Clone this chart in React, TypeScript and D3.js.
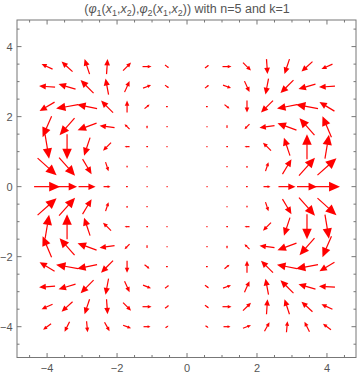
import React, { useEffect, useRef } from 'react';
import * as d3 from 'd3';

// grid of sample points (VectorPlot style, 15 x 14)
const xPoints = [-4, -3.429, -2.857, -2.286, -1.714, -1.143, -0.571, 0, 0.571, 1.143, 1.714, 2.286, 2.857, 3.429, 4];
const yPoints = [3.429, 2.857, 2.286, 1.714, 1.143, 0.571, 0, -0.571, -1.143, -1.714, -2.286, -2.857, -3.429, -4];

// horizontal component of each arrow, one row per yPoint
const uRows = [
  [-11, -11, -5, 1, 8, 9, 4, 0, 4, 9, 8, 1, -5, -11, -11],
  [-16, -17, -13, -3, 5, 8, 4, 0, 4, 8, 5, -3, -13, -17, -16],
  [-15, -22, -20, -12, 0, 5, 2, 0, 2, 5, 0, -12, -20, -22, -15],
  [-9, -15, -19, -15, -5, 0, 0, 0, 0, 0, -5, -15, -19, -15, -9],
  [4, 0, -6, -8, -5, -2, -1, 0, -1, -2, -5, -8, -6, 0, 4],
  [19, 16, 9, 3, 0, 0, 0, 0, 0, 0, 0, 3, 9, 16, 19],
  [26, 20, 17, 7, 2, 1, 1, 0, 1, 1, 2, 7, 17, 20, 26],
  [19, 16, 9, 3, 0, 0, 0, 0, 0, 0, 0, 3, 9, 16, 19],
  [4, 0, -6, -8, -5, -2, -1, 0, -1, -2, -5, -8, -6, 0, 4],
  [-9, -15, -19, -15, -5, 0, 0, 0, 0, 0, -5, -15, -19, -15, -9],
  [-15, -22, -20, -12, 0, 5, 2, 0, 2, 5, 0, -12, -20, -22, -15],
  [-16, -17, -13, -3, 5, 8, 4, 0, 4, 8, 5, -3, -13, -17, -16],
  [-11, -11, -5, 1, 8, 9, 4, 0, 4, 9, 8, 1, -5, -11, -11],
  [-8, -5, 1, 5, 8, 7, 3, 0, 3, 7, 8, 5, 1, -5, -8],
];

// vertical component (up is positive)
const vRows = [
  [5, 10, 15, 15, 8, 0, -3, 0, 3, 0, -8, -15, -15, -10, -5],
  [1, 5, 13, 16, 11, 3, -3, 0, 3, -3, -11, -16, -13, -5, -1],
  [-9, -4, 4, 12, 12, 4, 0, 0, 0, -4, -12, -12, -4, 4, 9],
  [-21, -17, -7, 2, 5, 3, 1, 0, -1, -3, -5, -2, 7, 17, 21],
  [-24, -25, -18, -8, 0, 0, 0, 0, 0, 0, 0, 8, 18, 25, 24],
  [-17, -18, -15, -9, -2, -1, 0, 0, 0, 1, 2, 9, 15, 18, 17],
  [0, 0, 0, 0, 0, 0, 0, 0, 0, 0, 0, 0, 0, 0, 0],
  [17, 18, 15, 9, 2, 1, 0, 0, 0, -1, -2, -9, -15, -18, -17],
  [24, 25, 18, 8, 0, 0, 0, 0, 0, 0, 0, -8, -18, -25, -24],
  [21, 17, 7, -2, -5, -3, -1, 0, 1, 3, 5, 2, -7, -17, -21],
  [9, 4, -4, -12, -12, -4, 0, 0, 0, 4, 12, 12, 4, -4, -9],
  [-1, -5, -13, -16, -11, -3, 3, 0, -3, 3, 11, 16, 13, 5, 1],
  [-5, -10, -15, -15, -8, 0, 3, 0, -3, 0, 8, 15, 15, 10, 5],
  [-6, -10, -11, -9, -3, 0, 2, 0, -2, 0, 3, 9, 11, 10, 6],
];

const majorTicks = [-4, -2, 0, 2, 4];
const tickLabels = ['\u22124', '\u22122', '0', '2', '4'];

const titleParts = [
  { t: '(' }, { t: 'φ', i: true }, { t: '1', sub: true }, { t: '(' },
  { t: 'x', i: true }, { t: '1', sub: true }, { t: ',' }, { t: 'x', i: true }, { t: '2', sub: true },
  { t: '),' }, { t: 'φ', i: true }, { t: '2', sub: true }, { t: '(' },
  { t: 'x', i: true }, { t: '1', sub: true }, { t: ',' }, { t: 'x', i: true }, { t: '2', sub: true },
  { t: ')) with n=5 and k=1' },
];

const App = () => {
  const svgRef = useRef<SVGSVGElement>(null);

  useEffect(() => {
    const W = 360, H = 375;
    const left = 17, right = 356, top = 20, bottom = 357.5;
    const font = '"Liberation Sans", Arial, sans-serif';

    const svg = d3.select(svgRef.current);
    svg.selectAll('*').remove();
    svg.attr('width', W).attr('height', H);

    const x = d3.scaleLinear().domain([-4.86, 4.83]).range([left, right]);
    const y = d3.scaleLinear().domain([-4.88, 4.76]).range([bottom, top]);
    // arrow length in px per unit of vector magnitude
    const len = d3.scaleLinear().domain([0, 26]).range([0, 26]);

    svg.append('rect').attr('width', W).attr('height', H).attr('fill', '#fff');

    // arrows
    const arrows: { cx: number; cy: number; u: number; v: number }[] = [];
    yPoints.forEach((yy, r) => {
      xPoints.forEach((xx, c) => {
        arrows.push({ cx: x(xx), cy: y(yy), u: uRows[r][c], v: vRows[r][c] });
      });
    });

    const g = svg.append('g');
    arrows.forEach(a => {
      const m = Math.hypot(a.u, a.v);
      const L = len(m);
      if (L < 0.5) return;
      const ux = a.u / m, uy = -a.v / m;
      const x0 = a.cx - ux * L / 2, y0 = a.cy - uy * L / 2;
      const x1 = a.cx + ux * L / 2, y1 = a.cy + uy * L / 2;
      const hl = 0.42 * L, hw = 0.19 * L;
      const bx = x1 - ux * hl, by = y1 - uy * hl;
      g.append('line')
        .attr('x1', x0).attr('y1', y0).attr('x2', bx + ux * 0.5).attr('y2', by + uy * 0.5)
        .attr('stroke', '#ff0000').attr('stroke-width', 1.2);
      g.append('path')
        .attr('d', `M${x1},${y1}L${bx - uy * hw},${by + ux * hw}L${bx + uy * hw},${by - ux * hw}Z`)
        .attr('fill', '#ff0000');
    });

    // frame
    svg.append('rect')
      .attr('x', left).attr('y', top).attr('width', right - left).attr('height', bottom - top)
      .attr('fill', 'none').attr('stroke', '#777').attr('stroke-width', 1);

    const minorTicks = d3.range(-4.5, 4.51, 0.5).filter(t => !majorTicks.includes(t));
    const ticks = svg.append('g').attr('stroke', '#777').attr('stroke-width', 1);
    const addTicks = (vals: number[], size: number) => {
      vals.forEach(t => {
        const px = x(t), py = y(t);
        if (px > left && px < right) {
          ticks.append('line').attr('x1', px).attr('x2', px).attr('y1', bottom).attr('y2', bottom - size);
          ticks.append('line').attr('x1', px).attr('x2', px).attr('y1', top).attr('y2', top + size);
        }
        if (py > top && py < bottom) {
          ticks.append('line').attr('y1', py).attr('y2', py).attr('x1', left).attr('x2', left + size);
          ticks.append('line').attr('y1', py).attr('y2', py).attr('x1', right).attr('x2', right - size);
        }
      });
    };
    addTicks(majorTicks, 4.5);
    addTicks(minorTicks, 2.5);

    // tick labels
    majorTicks.forEach((t, i) => {
      svg.append('text')
        .attr('x', x(t)).attr('y', 372)
        .attr('text-anchor', 'middle')
        .attr('font-family', font).attr('font-size', 11).attr('fill', '#555')
        .text(tickLabels[i]);
      svg.append('text')
        .attr('x', 12.5).attr('y', y(t) + 4)
        .attr('text-anchor', 'end')
        .attr('font-family', font).attr('font-size', 11).attr('fill', '#555')
        .text(tickLabels[i]);
    });

    // title
    const title = svg.append('text')
      .attr('x', 187).attr('y', 12.5)
      .attr('text-anchor', 'middle')
      .attr('font-family', font).attr('font-size', 12.5).attr('fill', '#555');
    let shift = 0;
    titleParts.forEach(p => {
      const target = p.sub ? 3 : 0;
      const span = title.append('tspan')
        .attr('dy', target - shift)
        .attr('font-size', p.sub ? 9 : 12.5)
        .text(p.t);
      if (p.i) span.attr('font-style', 'italic');
      shift = target;
    });
  }, []);

  return <svg ref={svgRef} style={{ position: 'absolute', left: 0, top: 0 }}></svg>;
};

export default App;
